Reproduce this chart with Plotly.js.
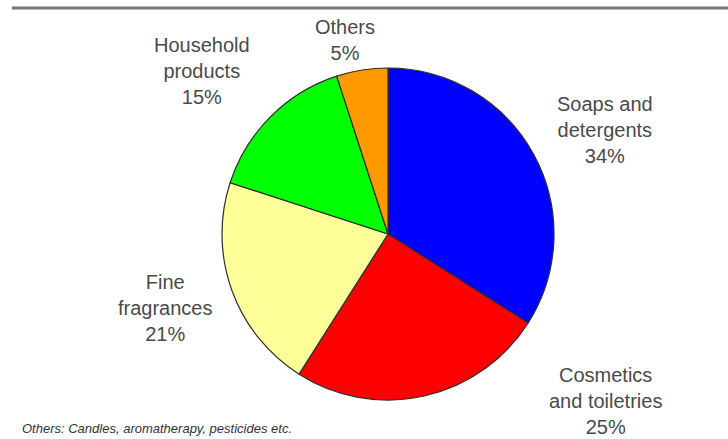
<!DOCTYPE html>
<html>
<head>
<meta charset="utf-8">
<script src="https://cdn.plot.ly/plotly-3.0.1.min.js"></script>
<style>html,body{margin:0;padding:0;background:#fff;}#chart{width:728px;height:439px;}</style>
</head>
<body>
<div id="chart"></div>
<script>
const categories = ["Soaps and detergents", "Cosmetics and toiletries", "Fine fragrances", "Household products", "Others"];
const labelLines = [["Soaps and", "detergents"], ["Cosmetics", "and toiletries"], ["Fine", "fragrances"], ["Household", "products"], ["Others"]];
const shares = [34, 25, 21, 15, 5];
const sliceColors = ["#0000ff", "#ff0000", "#ffff99", "#00ff00", "#ff9900"];
const footnote = "Others: Candles, aromatherapy, pesticides etc.";

// label anchor positions (paper coords) for each category
const labelPos = [
  {x: 605/728, y: 1 - 130/439},
  {x: 605/728, y: 1 - 401/439},
  {x: 165/728, y: 1 - 308/439},
  {x: 202/728, y: 1 - 71/439},
  {x: 345/728, y: 1 - 40/439}
];

const fontFam = "'Liberation Sans', Arial, Helvetica, sans-serif";

const trace = {
  type: "pie",
  labels: categories,
  values: shares,
  sort: false,
  direction: "clockwise",
  rotation: 0,
  textinfo: "none",
  hoverinfo: "label+percent",
  marker: {colors: sliceColors, line: {color: "#2e2e2e", width: 1.2}},
  domain: {x: [(388-200)/728, (388+200)/728], y: [(205-166)/439, (205+166)/439]},
  showlegend: false
};

const annotations = categories.map((c, i) => ({
  xref: "paper", yref: "paper",
  x: labelPos[i].x, y: labelPos[i].y,
  xanchor: "center", yanchor: "middle",
  text: labelLines[i].concat([shares[i] + "%"]).join("<br>"),
  showarrow: false,
  align: "center",
  font: {family: fontFam, size: 20, color: "#4a4a4a"}
}));
annotations.push({
  xref: "paper", yref: "paper",
  x: 20/728, y: 1 - 428/439,
  xanchor: "left", yanchor: "middle",
  text: "<i>" + footnote + "</i>",
  showarrow: false,
  font: {family: fontFam, size: 13, color: "#333"}
});

const layout = {
  width: 728, height: 439,
  margin: {l: 0, r: 0, t: 0, b: 0},
  paper_bgcolor: "#ffffff",
  annotations: annotations,
  shapes: [{type: "line", xref: "paper", yref: "paper", x0: 12/728, x1: 1, y0: 1 - 8/439, y1: 1 - 8/439, line: {color: "#777777", width: 3}}]
};

Plotly.newPlot("chart", [trace], layout, {displayModeBar: false, staticPlot: true});
</script>
</body>
</html>
